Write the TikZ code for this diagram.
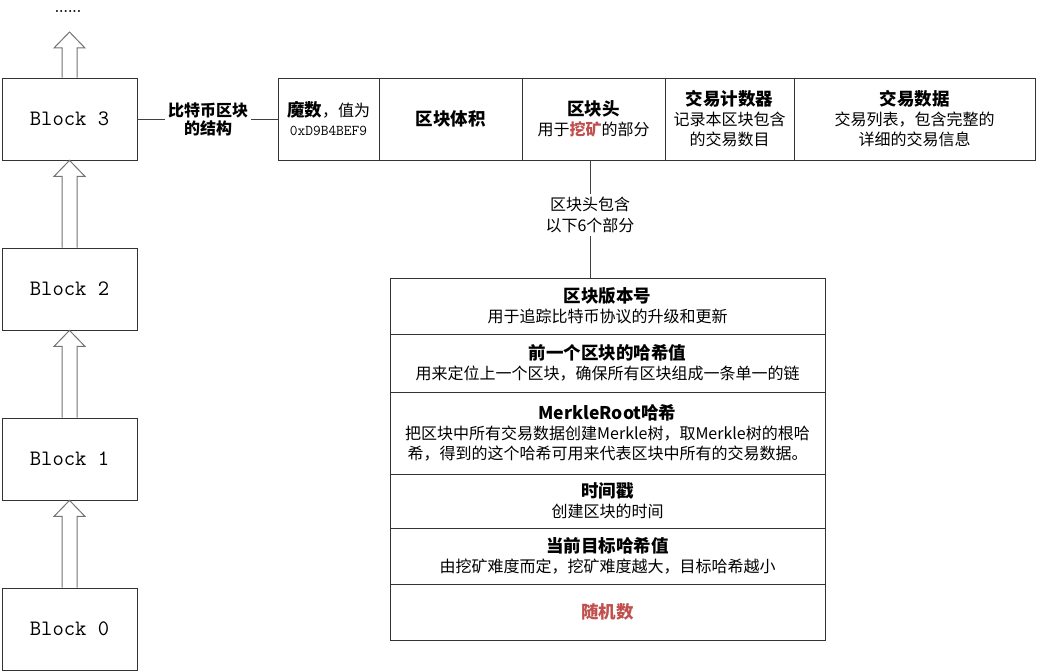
\documentclass[tikz,border=0pt]{standalone}
\usepackage{fontspec}
\usetikzlibrary{calc}
\newfontfamily\cjk{Noto Sans CJK SC}
\definecolor{hl}{HTML}{C0504D}
\newcommand\TT[1]{{\bfseries\fontsize{17.5}{20}\selectfont #1}}
\tikzset{
  box/.style={draw=black!80, line width=0.8pt, rectangle, inner sep=0pt, align=center,
     font=\cjk\fontsize{16}{20}\selectfont},
  blk/.style={box, minimum width=135pt, minimum height=82pt, font=\ttfamily\fontsize{22}{24}\selectfont},
  conn/.style={draw=black!75, line width=0.8pt},
  harrow/.style={draw=black!55, line width=1pt, fill=white, line join=miter},
  lbl/.style={inner sep=3pt, align=center, font=\cjk\fontsize{16}{21}\selectfont}
}
\newcommand\hollow[2]{%
  \draw[harrow] ($(#1.north)+(-7.5,0)$) -- ($(#2)+(-7.5,16)$) -- ($(#2)+(-15.5,16)$)
     -- (#2) -- ($(#2)+(15.5,16)$) -- ($(#2)+(7.5,16)$) -- ($(#1.north)+(7.5,0)$);}
\begin{document}
\begin{tikzpicture}[x=1pt,y=-1pt]
\useasboundingbox (0,0) rectangle (1037,671);
% blocks
\node[blk] (b3) at (69.5,119) {Block 3};
\node[blk] (b2) at (69.5,289) {Block 2};
\node[blk] (b1) at (69.5,459) {Block 1};
\node[blk] (b0) at (69.5,629) {Block 0};
\node[font=\bfseries\fontsize{14}{14}\selectfont, inner sep=0pt, anchor=base] (dots) at (68,13) {......};
\coordinate (t3) at (69.5,32);
\hollow{b0}{b1.south}
\hollow{b1}{b2.south}
\hollow{b2}{b3.south}
\hollow{b3}{t3}
% top table
\node[box, minimum width=101pt, minimum height=82pt] (c1) at (328.5,119)
  {\TT{魔数}，值为\\[-1pt]{\ttfamily\fontsize{15}{18}\selectfont 0xD9B4BEF9}};
\node[box, minimum width=143pt, minimum height=82pt] (c2) at (450.5,119) {\TT{区块体积}};
\node[box, minimum width=143pt, minimum height=82pt] (c3) at (593.5,119)
  {\TT{区块头}\\用于\textcolor{hl}{\bfseries 挖矿}的部分};
\node[box, minimum width=129pt, minimum height=82pt] (c4) at (729.5,119)
  {\TT{交易计数器}\\记录本区块包含\\的交易数目};
\node[box, minimum width=241pt, minimum height=82pt] (c5) at (914.5,119)
  {\TT{交易数据}\\交易列表，包含完整的\\详细的交易信息};
% label between block 3 and table
\node[lbl, font=\cjk\bfseries\fontsize{16}{18}\selectfont] (st) at (208,119) {比特币区块\\的结构};
\draw[conn] (b3.east) -- (st.west);
\draw[conn] (st.east) -- (c1.west);
% header rows
\node[box, minimum width=435pt, minimum height=56pt] (r1) at (607.5,306)
  {\TT{区块版本号}\\用于追踪比特币协议的升级和更新};
\node[box, minimum width=435pt, minimum height=58pt] (r2) at (607.5,363)
  {\TT{前一个区块的哈希值}\\用来定位上一个区块，确保所有区块组成一条单一的链};
\node[box, minimum width=435pt, minimum height=82pt] (r3) at (607.5,433)
  {\TT{MerkleRoot哈希}\\把区块中所有交易数据创建Merkle树，取Merkle树的根哈\\希，得到的这个哈希可用来代表区块中所有的交易数据。};
\node[box, minimum width=435pt, minimum height=54pt] (r4) at (607.5,501)
  {\TT{时间戳}\\创建区块的时间};
\node[box, minimum width=435pt, minimum height=56pt] (r5) at (607.5,556)
  {\TT{当前目标哈希值}\\由挖矿难度而定，挖矿难度越大，目标哈希越小};
\node[box, minimum width=435pt, minimum height=56pt] (r6) at (607.5,612)
  {\TT{\textcolor{hl}{随机数}}};
% connector from header cell
\node[lbl] (hp) at (590,215) {区块头包含\\以下6个部分};
\draw[conn] (hp |- c3.south) -- (hp.north);
\draw[conn] (hp.south) -- (hp |- r1.north);
\end{tikzpicture}
\end{document}
